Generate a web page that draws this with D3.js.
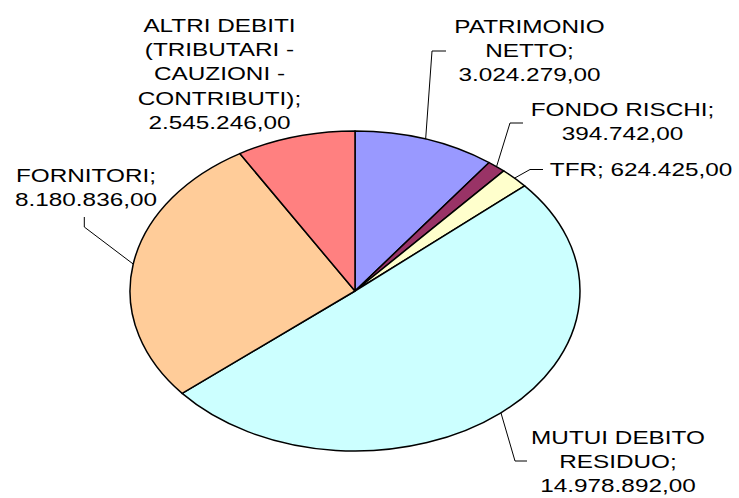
<!DOCTYPE html>
<html>
<head>
<meta charset="utf-8">
<script src="https://cdn.jsdelivr.net/npm/d3@7/dist/d3.min.js"></script>
<style>
  html, body { margin: 0; padding: 0; background: #ffffff; }
  svg { display: block; }
  text { font-family: "Liberation Sans", Arial, sans-serif; fill: #000; }
</style>
</head>
<body>
<svg id="chart" width="739" height="498"></svg>
<script>
// ---- data ----
const categories = [
  "PATRIMONIO NETTO",
  "FONDO RISCHI",
  "TFR",
  "MUTUI DEBITO RESIDUO",
  "FORNITORI",
  "ALTRI DEBITI (TRIBUTARI - CAUZIONI - CONTRIBUTI)"
];
const values = [3024279, 394742, 624425, 14978892, 8180836, 2545246];
const colors = ["#9999FF", "#993366", "#FFFFCC", "#CCFFFF", "#FFCC99", "#FF8080"];
// how each label is broken into lines (category part)
const labelBreaks = [
  ["PATRIMONIO", "NETTO;"],
  ["FONDO RISCHI;"],
  ["TFR;"],
  ["MUTUI DEBITO", "RESIDUO;"],
  ["FORNITORI;"],
  ["ALTRI DEBITI", "(TRIBUTARI -", "CAUZIONI -", "CONTRIBUTI);"]
];

// ---- layout ----
const cx = 355, cy = 291, rx = 225, ry = 160;
const labelLayout = [
  { x: 529.5, y: 32.5, inline: false, leader: [[446, 51], [432, 51]] },
  { x: 622.5, y: 115.5, inline: false, leader: [[523, 123], [510, 123]] },
  { x: 641, y: 175.7, inline: true, leader: [[543, 169.5], [530, 169.5]] },
  { x: 618, y: 443.5, inline: false, leader: [[527, 461], [515, 461]] },
  { x: 86, y: 182, inline: false, leader: [[84.3, 217], [84.3, 227]] },
  { x: 219.5, y: 31.8, inline: false, leader: null }
];
const lineH = 24.3;
const fontSize = 19;
const stretchX = 1.28;

const it = d3.formatLocale({ decimal: ",", thousands: ".", grouping: [3], currency: ["€", ""] });
const fmt = it.format(",.2f");

const svg = d3.select("#chart");
const data = categories.map((c, i) => ({ name: c, value: values[i], color: colors[i], i }));

const pie = d3.pie().sort(null).value(d => d.value);
const arcs = pie(data);
const arc = d3.arc().innerRadius(0).outerRadius(rx);

const g = svg.append("g")
  .attr("transform", `translate(${cx},${cy}) scale(1,${ry / rx})`);

g.selectAll("path.slice")
  .data(arcs)
  .enter().append("path")
  .attr("class", "slice")
  .attr("d", arc)
  .attr("fill", d => d.data.color)
  .attr("stroke", "#000")
  .attr("stroke-width", 1.5)
  .attr("vector-effect", "non-scaling-stroke")
  .attr("stroke-linejoin", "round");

// leader lines
function edgePoint(d) {
  const a = (d.startAngle + d.endAngle) / 2;
  return [cx + rx * Math.sin(a), cy - ry * Math.cos(a)];
}
arcs.forEach((d, i) => {
  const L = labelLayout[i];
  if (!L.leader) return;
  const p = edgePoint(d);
  const pts = [L.leader[0], L.leader[1], p];
  svg.append("path")
    .attr("d", d3.line()(pts))
    .attr("fill", "none")
    .attr("stroke", "#000")
    .attr("stroke-width", 1);
});

// labels
arcs.forEach((d, i) => {
  const L = labelLayout[i];
  let lines = labelBreaks[i].slice();
  const valStr = fmt(d.data.value);
  if (L.inline) lines[lines.length - 1] = lines[lines.length - 1] + " " + valStr;
  else lines.push(valStr);
  const t = svg.append("text")
    .attr("transform", `translate(${L.x},${L.y}) scale(${stretchX},1)`)
    .attr("text-anchor", "middle")
    .attr("font-size", fontSize);
  lines.forEach((ln, k) => {
    t.append("tspan").attr("x", 0).attr("y", k * lineH).text(ln);
  });
});
</script>
</body>
</html>
